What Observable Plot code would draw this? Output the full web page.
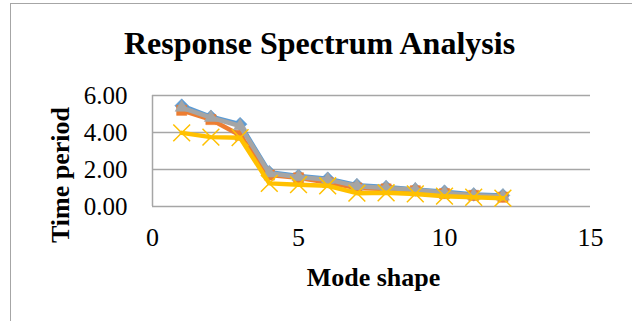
<!DOCTYPE html>
<html>
<head>
<meta charset="utf-8">
<script src="https://cdn.jsdelivr.net/npm/d3@7"></script>
<script src="https://cdn.jsdelivr.net/npm/@observablehq/plot@0.6"></script>
<style>
  html, body { margin: 0; padding: 0; background: #fff; }
  #chart { position: relative; width: 632px; height: 321px; overflow: hidden; }
  #frame { position: absolute; left: 10px; top: 3px; width: 700px; height: 400px;
           border-left: 1.5px solid #a6a6a6; border-top: 1.5px solid #a6a6a6; box-sizing: border-box; }
  #chart svg { position: absolute; left: 0; top: 0; }
</style>
</head>
<body>
<div id="chart"><div id="frame"></div></div>
<script>
// Mode numbers and periods (s) for the four analysis cases
const modes = [1, 2, 3, 4, 5, 6, 7, 8, 9, 10, 11, 12];
const seriesBlue   = [5.45, 4.85, 4.45, 1.85, 1.65, 1.50, 1.15, 1.05, 0.92, 0.80, 0.65, 0.60];
const seriesOrange = [5.20, 4.70, 3.85, 1.70, 1.55, 1.30, 1.00, 0.95, 0.85, 0.70, 0.60, 0.50];
const seriesGray   = [5.35, 4.80, 4.35, 1.80, 1.60, 1.45, 1.10, 1.00, 0.90, 0.75, 0.60, 0.55];
const seriesYellow = [3.98, 3.75, 3.72, 1.25, 1.18, 1.12, 0.72, 0.74, 0.68, 0.56, 0.50, 0.45];
const xTicks = [0, 5, 10, 15];
const yTicks = [0, 2, 4, 6];
const titleText = "Response Spectrum Analysis";
const xLabel = "Mode shape";
const yLabel = "Time period";

const serif = "'Liberation Serif', 'Times New Roman', serif";

const series = [
  {values: seriesBlue,   color: "#5B9BD5", symbol: "diamond2",  r: 6.2},
  {values: seriesOrange, color: "#ED7D31", symbol: "square2",   r: 6.5},
  {values: seriesGray,   color: "#A5A5A5", symbol: "triangle2", r: 6.3},
  {values: seriesYellow, color: "#FFC000", symbol: "times",     r: 7.7}
];

const rows = s => modes.map((m, i) => ({mode: m, period: s.values[i]}));

const marks = [
  Plot.gridY(yTicks, {stroke: "#a6a6a6", strokeOpacity: 1, strokeWidth: 1.5}),
  Plot.ruleX([0], {stroke: "#a6a6a6", strokeWidth: 1.5}),
  Plot.axisX({ticks: xTicks, tickSize: 0, tickPadding: 21, fontSize: 26, fontFamily: serif, label: null}),
  Plot.axisY({ticks: yTicks, tickSize: 0, tickPadding: 25, fontSize: 25, fontFamily: serif, label: null,
              tickFormat: d3.format(".2f")})
];

// Each series draws its line and then its markers, later series on top
for (const s of series) {
  const data = rows(s);
  const filled = s.symbol !== "times";
  marks.push(Plot.line(data, {x: "mode", y: "period", stroke: s.color, strokeWidth: 4.5,
                              strokeLinejoin: "round", strokeLinecap: "round"}));
  marks.push(Plot.dot(data, {x: "mode", y: "period", symbol: () => s.symbol, r: s.r,
    fill: filled ? s.color : "none", stroke: s.color, strokeWidth: filled ? 0.5 : 1.5}));
}

// Chart title and axis titles
marks.push(Plot.text([titleText], {frameAnchor: "top", textAnchor: "middle", lineAnchor: "middle",
  dx: -52, dy: -52, fontSize: 32, fontWeight: "bold", fontFamily: serif, text: d => d}));
marks.push(Plot.text([xLabel], {frameAnchor: "bottom", textAnchor: "middle", lineAnchor: "middle",
  dx: 2, dy: 71, fontSize: 26, fontWeight: "bold", fontFamily: serif, text: d => d}));
marks.push(Plot.text([yLabel], {frameAnchor: "left", textAnchor: "middle", lineAnchor: "middle",
  dx: -92, dy: 24, fontSize: 26, fontWeight: "bold", fontFamily: serif, rotate: -90, text: d => d}));

const chart = Plot.plot({
  width: 632,
  height: 321,
  marginLeft: 152,
  marginRight: 42,
  marginTop: 95,
  marginBottom: 115,
  x: {domain: [0, 15]},
  y: {domain: [0, 6]},
  style: {fontFamily: serif, color: "#000", background: "transparent", overflow: "visible"},
  marks
});
document.getElementById("chart").appendChild(chart);
</script>
</body>
</html>
